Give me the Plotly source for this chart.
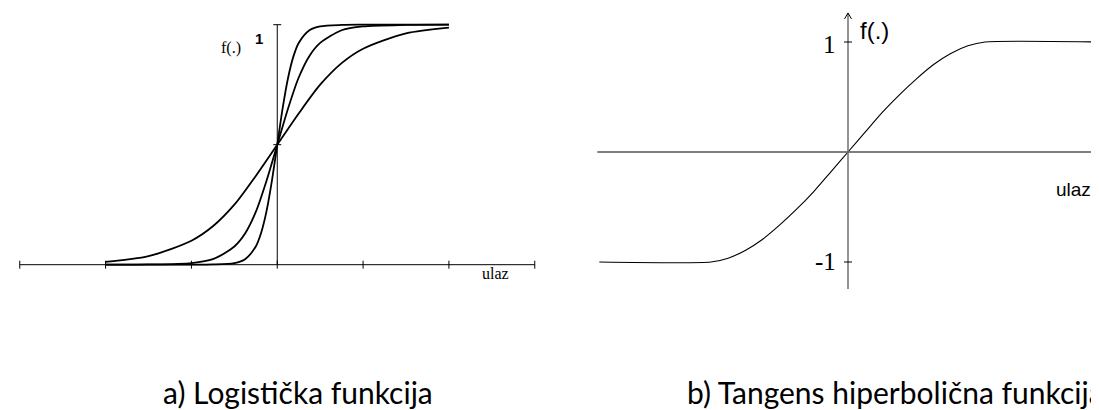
import plotly.graph_objects as go

# ---- data ----
# a) logistic curves, three slopes (x in tick units, y in 0..1)
log_wide_x = [-2, -1.5, -1, -0.75, -0.5, -0.25, 0, 0.25, 0.5, 0.75, 1, 1.5, 2]
log_wide_y = [0.012, 0.036, 0.10, 0.16, 0.25, 0.37, 0.5, 0.63, 0.75, 0.84, 0.90, 0.964, 0.988]

log_mid_x = [-2, -1.5, -1, -0.75, -0.5, -0.375, -0.25, -0.125, 0,
             0.125, 0.25, 0.375, 0.5, 0.75, 1, 1.5, 2]
log_mid_y = [0.0, 0.001, 0.007, 0.023, 0.076, 0.13, 0.22, 0.35, 0.5,
             0.65, 0.78, 0.87, 0.924, 0.977, 0.993, 0.999, 1.0]

log_steep_x = [-2, -1, -0.75, -0.5, -0.375, -0.25, -0.1875, -0.125, -0.0625, 0,
               0.0625, 0.125, 0.1875, 0.25, 0.375, 0.5, 0.75, 1, 2]
log_steep_y = [0.0, 0.0, 0.001, 0.007, 0.023, 0.076, 0.133, 0.223, 0.349, 0.5,
               0.651, 0.777, 0.867, 0.924, 0.977, 0.993, 0.999, 1.0, 1.0]

left_xticks = [-3, -2, -1, 0, 1, 2, 3]
left_yticks = [0.5, 1]

# b) tanh-like saturating curve
tanh_x = [-1.815, -1, -0.875, -0.75, -0.625, -0.5, -0.375, -0.25, -0.125, 0,
          0.125, 0.25, 0.375, 0.5, 0.625, 0.75, 0.875, 1, 1.832]
tanh_y = [-1, -1, -0.965, -0.895, -0.795, -0.665, -0.52, -0.36, -0.18, 0,
          0.18, 0.36, 0.52, 0.665, 0.795, 0.895, 0.965, 1, 1]
right_yticks = [-1, 1]

W, H = 1099, 410


def px(x):
    return x / W


def py(y):
    return 1 - y / H


fig = go.Figure()

for xs, ys in [(log_wide_x, log_wide_y), (log_mid_x, log_mid_y), (log_steep_x, log_steep_y)]:
    fig.add_trace(go.Scatter(x=xs, y=ys, mode="lines", xaxis="x", yaxis="y",
                             line=dict(color="black", width=1.8, shape="spline", smoothing=0.8),
                             hoverinfo="skip"))

fig.add_trace(go.Scatter(x=tanh_x, y=tanh_y, mode="lines", xaxis="x2", yaxis="y2",
                         line=dict(color="black", width=1.1, shape="spline", smoothing=0.6),
                         hoverinfo="skip"))

shapes = []
# left axes
shapes.append(dict(type="line", xref="x", yref="y", x0=-3, x1=3, y0=0, y1=0,
                   line=dict(color="black", width=1)))
shapes.append(dict(type="line", xref="x", yref="y", x0=0, x1=0, y0=0, y1=1,
                   line=dict(color="black", width=1)))
for t in left_xticks:
    shapes.append(dict(type="line", xref="x", yref="y", x0=t, x1=t,
                       ysizemode="pixel", yanchor=0, y0=-4, y1=4,
                       line=dict(color="black", width=1)))
for t in left_yticks:
    shapes.append(dict(type="line", xref="x", yref="y", y0=t, y1=t,
                       xsizemode="pixel", xanchor=0, x0=-4, x1=4,
                       line=dict(color="black", width=1)))

# right axes
grey = "#707070"
shapes.append(dict(type="line", xref="x2", yref="y2", x0=-1.83, x1=1.89, y0=0, y1=0,
                   line=dict(color="#555555", width=1.5)))
shapes.append(dict(type="line", xref="x2", yref="y2", x0=0, x1=0, y0=-1.245, y1=1.264,
                   line=dict(color=grey, width=1.5)))
for t in right_yticks:
    shapes.append(dict(type="line", xref="x2", yref="y2", y0=t, y1=t,
                       xsizemode="pixel", xanchor=0, x0=-4, x1=4,
                       line=dict(color="black", width=1)))
# arrow heads
for dx in (-3.5, 3.5):
    shapes.append(dict(type="line", xref="x2", yref="y2",
                       xsizemode="pixel", xanchor=0, x0=dx, x1=0,
                       ysizemode="pixel", yanchor=1.264, y0=-6, y1=0,
                       line=dict(color="black", width=1)))
for dy in (-3.5, 3.5):
    shapes.append(dict(type="line", xref="x2", yref="y2",
                       xsizemode="pixel", xanchor=1.89, x0=-6, x1=0,
                       ysizemode="pixel", yanchor=0, y0=dy, y1=0,
                       line=dict(color="black", width=1)))

serif = "Liberation Serif, Times New Roman, serif"
sans = "Liberation Sans, Arial, sans-serif"
caption = "Lato, Carlito, Calibri, sans-serif"


def label(text, x, y, family, size, xanchor="center", yanchor="middle"):
    return dict(text=text, x=px(x), y=py(y), xref="paper", yref="paper",
                xanchor=xanchor, yanchor=yanchor, showarrow=False,
                font=dict(family=family, size=size, color="black"))


annotations = [
    label("f(.)", 223, 40, serif, 16),
    label("<b>1</b>", 250.5, 31, sans, 15),
    label("ulaz", 487, 265, serif, 16),
    label("1", 821.5, 37, serif, 25),
    label("-1", 817.5, 253, serif, 25),
    label("f(.)", 866, 22, sans, 24),
    label("ulaz", 1065.5, 182, sans, 19),
    label("a) Logistička funkcija", 153, 404, caption, 30, xanchor="left", yanchor="bottom"),
    label("b) Tangens hiperbolična funkcija", 677, 404, caption, 30, xanchor="left", yanchor="bottom"),
]

fig.update_layout(
    width=W, height=H,
    margin=dict(l=0, r=0, t=0, b=0),
    paper_bgcolor="white", plot_bgcolor="white",
    showlegend=False,
    # left panel: 0 at px 269.3, one tick = 85.85 px; y 0 at px 256.7, 1 at px 16.7
    xaxis=dict(domain=[0, 0.5], range=[-3.137, 3.265], visible=False, fixedrange=True),
    yaxis=dict(domain=[1 - 300 / H, 1], range=[-0.1804, 1.0696], visible=False, fixedrange=True),
    # right panel: 0 at px 840, unit = 137 px; y 0 at px 144, unit = 110 px
    xaxis2=dict(domain=[0.5, 1], range=[-2.1204, 1.8905], visible=False, fixedrange=True),
    yaxis2=dict(domain=[1 - 300 / H, 1], range=[-1.41818, 1.3091], visible=False, fixedrange=True),
    shapes=shapes,
    annotations=annotations,
)

fig.write_html("out.html")
